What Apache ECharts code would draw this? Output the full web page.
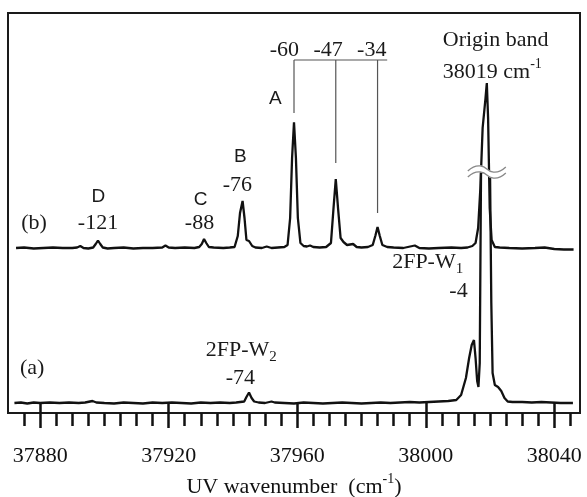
<!DOCTYPE html>
<html>
<head>
<meta charset="utf-8">
<script src="https://cdn.jsdelivr.net/npm/echarts@6/dist/echarts.min.js"></script>
<style>
  html, body { margin: 0; padding: 0; background: #fff; }
  #chart { width: 587px; height: 497px; }
</style>
</head>
<body>
<div id="chart"></div>
<script>
// Spectrum (a): [wavenumber (cm-1), intensity (arb.)]
const traceA = [
  [37872, 0], [37874, 0.5], [37876, -0.5], [37878, 0.5], [37880, 0], [37883, 0.5],
  [37886, 0], [37889, 0.5], [37892, 0], [37894, 0.5], [37896.3, 2], [37897.5, 0.5],
  [37900, 0], [37903, -0.5], [37906, 0.5], [37909, 0], [37912, -0.5], [37915, 0.5],
  [37918, 0], [37921, 0.5], [37924, 0], [37927, -0.5], [37930, 0.5], [37933, 0],
  [37936, 0.5], [37939, 0], [37941, 0.5], [37943.5, 1.5], [37944.2, 6], [37945, 10.5],
  [37945.8, 5], [37946.6, 1.5], [37948, 0.5], [37950, 0], [37952, 1.5], [37953, 0.5],
  [37956, 0], [37959, -0.5], [37962, 0.5], [37965, 0], [37968, -0.5], [37971, 0],
  [37974, 0.5], [37977, 0], [37980, -0.5], [37983, 0], [37986, 0.5], [37989, 0],
  [37992, 0.5], [37995, 1], [37998, 0.5], [38001, 1], [38004, 1.5], [38007, 2],
  [38009.5, 3], [38011, 8], [38012.5, 25], [38013.5, 45], [38014.3, 58], [38015, 63],
  [38015.5, 45], [38016, 22], [38016.4, 16], [38016.8, 40], [38017.2, 231], [38020, 231],
  [38020.4, 100], [38020.8, 30], [38021.5, 18], [38022.5, 16], [38023.5, 12], [38024.5, 5],
  [38025.5, 1.5], [38027, 1], [38030, 1], [38033, 0.5], [38036, 1], [38039, 0.5],
  [38042, 0], [38045.8, 0]
];

// Spectrum (b): [wavenumber (cm-1), intensity (arb.)]
const traceB = [
  [37872.5, 0], [37875, 0.5], [37878, -0.5], [37881, 0], [37884, 0.5], [37887, 0],
  [37890, 0], [37891.5, 0.5], [37892.5, 2], [37893.5, 0], [37895, -0.5], [37896.5, 0.5],
  [37897.3, 4], [37898, 7.5], [37898.7, 4], [37899.5, 0.5], [37901, -0.5], [37903, 0],
  [37906, 0.5], [37909, -0.5], [37912, 0], [37915, 0], [37918, 0.5], [37919, 2.5],
  [37920, 0.5], [37922, 0], [37925, 0.5], [37928, 0], [37929.5, 1], [37930.3, 4],
  [37931, 9], [37931.7, 5], [37932.5, 1], [37934, 0.5], [37937, 0], [37939, 0.5],
  [37940.5, 1], [37941.5, 12], [37942.2, 35], [37943, 47], [37943.6, 30], [37944.2, 8],
  [37945, 7], [37946, 2], [37947, 0.5], [37949, 0], [37950.5, 1.5], [37952, 0],
  [37954, 0.5], [37956, 1], [37957, 3], [37957.8, 30], [37958.4, 90], [37959, 125.6],
  [37959.6, 90], [37960.2, 30], [37961, 5], [37962, 2], [37963, 1.5], [37964, 2.5],
  [37965, 1], [37967, 0.5], [37969, 1], [37970.5, 5], [37971.3, 40], [37972, 69],
  [37972.7, 40], [37973.5, 10], [37974.4, 6], [37975.5, 3], [37977.4, 4], [37978.5, 1],
  [37980, 0.5], [37982, 1], [37983.5, 3], [37984.3, 12], [37985, 21], [37985.7, 12],
  [37986.5, 3], [37988, 1], [37990, 0.5], [37993, 0], [37996.6, 2.5], [37998, 0],
  [38001, -0.5], [38004, 0], [38008, 0.5], [38011, 0], [38013, 0.5], [38014.5, 2],
  [38015.5, 5], [38016.3, 20], [38017, 60], [38017.7, 120], [38018.2, 122], [38018.6, 150],
  [38019, 165], [38019.4, 130], [38019.9, 40], [38020.5, 8], [38021.5, 1], [38023, 0.5],
  [38026, 0], [38030, -0.5], [38034, 0], [38037, 0.5], [38040, -1], [38043, -1.5],
  [38046, -1.5]
];

// Vertical offset that stacks trace (b) above trace (a)
const traceBOffset = 155;

// Axis labels (major ticks)
const majorTicks = [37880, 37920, 37960, 38000, 38040];

// Peak annotations: [wavenumber, level, text, face]
const bandLabels = [
  [37898.1, 206, 'D', 'sans'], [37898, 180, '-121', 'serif'],
  [37929.9, 203, 'C', 'sans'], [37929.6, 180, '-88', 'serif'],
  [37942.3, 246, 'B', 'sans'], [37941.4, 218, '-76', 'serif'],
  [37953.2, 304, 'A', 'sans'],
  [37956, 353, '-60', 'serif'], [37969.6, 353, '-47', 'serif'], [37983.2, 353, '-34', 'serif'],
  [37942.3, 25, '-74', 'serif'], [38010.2, 112, '-4', 'serif'],
  [37878.1, 180, '(b)', 'serif'], [37877.5, 35, '(a)', 'serif']
];

// Progression bracket for the A band series
const progressionPeaks = [37959, 37972, 37985];
const progressionEnds = [290, 240, 190];

// Break mark across the off-scale origin band: [wavenumber, level]
const breakMark = [[38019, 231]];

(function () {
  const minorTicks = [];
  for (let v = 37875; v <= 38045; v += 5) minorTicks.push(v);

  const chart = echarts.init(document.getElementById('chart'), null, { renderer: 'canvas' });

  const SERIF = '"Liberation Serif", "Times New Roman", serif';
  const SANS = '"Liberation Sans", Arial, sans-serif';

  function wavePath(cx, cy, w, dy) {
    return 'M' + (cx - w) + ',' + (cy + dy + 2) +
      ' C' + (cx - w / 2) + ',' + (cy + dy - 7) + ' ' + (cx - 2) + ',' + (cy + dy - 2) + ' ' + cx + ',' + (cy + dy) +
      ' S' + (cx + w / 2) + ',' + (cy + dy + 7) + ' ' + (cx + w) + ',' + (cy + dy - 2);
  }

  function renderBreak(params, api) {
    const c = api.coord([api.value(0), api.value(1)]);
    const cx = c[0], cy = c[1], w = 19;
    const fill = 'M' + (cx - w) + ',' + (cy - 1) +
      ' C' + (cx - w / 2) + ',' + (cy - 10) + ' ' + (cx - 2) + ',' + (cy - 5) + ' ' + cx + ',' + (cy - 3) +
      ' S' + (cx + w / 2) + ',' + (cy + 4) + ' ' + (cx + w) + ',' + (cy - 5) +
      ' L' + (cx + w) + ',' + (cy + 1) +
      ' C' + (cx + w / 2) + ',' + (cy + 10) + ' ' + (cx + 2) + ',' + (cy + 5) + ' ' + cx + ',' + (cy + 3) +
      ' S' + (cx - w / 2) + ',' + (cy - 4) + ' ' + (cx - w) + ',' + (cy + 5) + ' Z';
    return {
      type: 'group',
      children: [
        { type: 'path', shape: { pathData: fill }, style: { fill: '#fff', stroke: '#fff', lineWidth: 1 } },
        { type: 'path', shape: { pathData: wavePath(cx, cy, w, -3) }, style: { fill: 'none', stroke: '#888', lineWidth: 1.3 } },
        { type: 'path', shape: { pathData: wavePath(cx, cy, w, 3) }, style: { fill: 'none', stroke: '#888', lineWidth: 1.3 } }
      ]
    };
  }

  chart.setOption({
    animation: false,
    backgroundColor: '#fff',
    grid: {
      left: 8, top: 13, right: 7, bottom: 84,
      outerBoundsMode: 'none', containLabel: false,
      show: true, borderColor: '#1a1a1a', borderWidth: 2, backgroundColor: 'transparent'
    },
    xAxis: [
      {
        type: 'value', min: 37870, max: 38048, position: 'bottom',
        splitLine: { show: false },
        axisLine: { show: false },
        axisTick: { show: true, inside: false, length: 25, customValues: majorTicks,
          lineStyle: { color: '#111', width: 2.5 } },
        axisLabel: { show: true, customValues: majorTicks, margin: 32,
          formatter: v => String(v),
          fontFamily: SERIF, fontSize: 22, color: '#111' },
        name: '{t|UV wavenumber  (cm}{sup|-1}{t|)}',
        nameLocation: 'middle', nameGap: 58,
        nameTextStyle: {
          rich: {
            t: { fontFamily: SERIF, fontSize: 22, color: '#111', lineHeight: 30, verticalAlign: 'middle' },
            sup: { fontFamily: SERIF, fontSize: 14, color: '#111', lineHeight: 14, verticalAlign: 'top' }
          }
        }
      },
      {
        type: 'value', min: 37870, max: 38048, position: 'bottom',
        splitLine: { show: false },
        axisLine: { show: false },
        axisTick: { show: true, inside: false, length: 13, customValues: minorTicks,
          lineStyle: { color: '#111', width: 2.5 } },
        axisLabel: { show: false }
      }
    ],
    yAxis: { type: 'value', min: -10, max: 390, show: false, splitLine: { show: false } },
    series: [
      {
        name: '(a)', type: 'line', data: traceA, showSymbol: false, symbol: 'none',
        lineStyle: { color: '#111', width: 2.3 }, z: 3
      },
      {
        name: '(b)', type: 'line',
        data: traceB.map(p => [p[0], p[1] + traceBOffset]),
        showSymbol: false, symbol: 'none',
        lineStyle: { color: '#111', width: 2.3 }, z: 3
      },
      {
        name: 'break', type: 'custom', data: breakMark, renderItem: renderBreak,
        silent: true, z: 8
      }
    ]
  });

  function px(wn, val) { return chart.convertToPixel({ gridIndex: 0 }, [wn, val]); }

  const graphics = [];

  bandLabels.forEach(([wn, lv, text, fam]) => {
    const p = px(wn, lv);
    graphics.push({
      type: 'text', x: p[0], y: p[1], z: 10,
      style: {
        text, fill: '#1a1a1a', align: 'center', verticalAlign: 'middle',
        font: (fam === 'sans' ? '19px ' + SANS : '22px ' + SERIF)
      }
    });
  });

  // Subscripted species labels
  function richLabel(wn, lv, main, sub) {
    const p = px(wn, lv);
    graphics.push({
      type: 'text', x: p[0], y: p[1], z: 10,
      style: {
        text: '{m|' + main + '}{b|' + sub + '}',
        align: 'center', verticalAlign: 'middle',
        rich: {
          m: { fontFamily: SERIF, fontSize: 22, fill: '#1a1a1a', lineHeight: 30, verticalAlign: 'middle' },
          b: { fontFamily: SERIF, fontSize: 15, fill: '#1a1a1a', lineHeight: 14, verticalAlign: 'bottom' }
        }
      }
    });
  }
  richLabel(37942.6, 53, '2FP-W', '2');
  richLabel(38000.6, 141, '2FP-W', '1');

  // Origin band caption (left aligned)
  const ob1 = px(38005.3, 363);
  graphics.push({ type: 'text', x: ob1[0], y: ob1[1], z: 10,
    style: { text: 'Origin band', font: '22px ' + SERIF, fill: '#1a1a1a', align: 'left', verticalAlign: 'middle' } });
  const ob2 = px(38005.3, 331);
  graphics.push({ type: 'text', x: ob2[0], y: ob2[1], z: 10,
    style: { text: '{m|38019 cm}{t|-1}', align: 'left', verticalAlign: 'middle',
      rich: {
        m: { fontFamily: SERIF, fontSize: 22, fill: '#1a1a1a', lineHeight: 30, verticalAlign: 'middle' },
        t: { fontFamily: SERIF, fontSize: 14, fill: '#1a1a1a', lineHeight: 14, verticalAlign: 'top' }
      } } });

  // Bracket linking the progression members
  const bracketLevel = 343;
  const hStart = px(progressionPeaks[0], bracketLevel);
  const hEnd = px(37988, bracketLevel);
  graphics.push({ type: 'line', z: 5, shape: { x1: hStart[0], y1: hStart[1], x2: hEnd[0], y2: hEnd[1] },
    style: { stroke: '#555', lineWidth: 1.2 } });
  progressionPeaks.forEach((wn, i) => {
    const a = px(wn, bracketLevel), b = px(wn, progressionEnds[i]);
    graphics.push({ type: 'line', z: 5, shape: { x1: a[0], y1: a[1], x2: b[0], y2: b[1] },
      style: { stroke: '#555', lineWidth: 1.2 } });
  });

  chart.setOption({ graphic: graphics });
})();
</script>
</body>
</html>
